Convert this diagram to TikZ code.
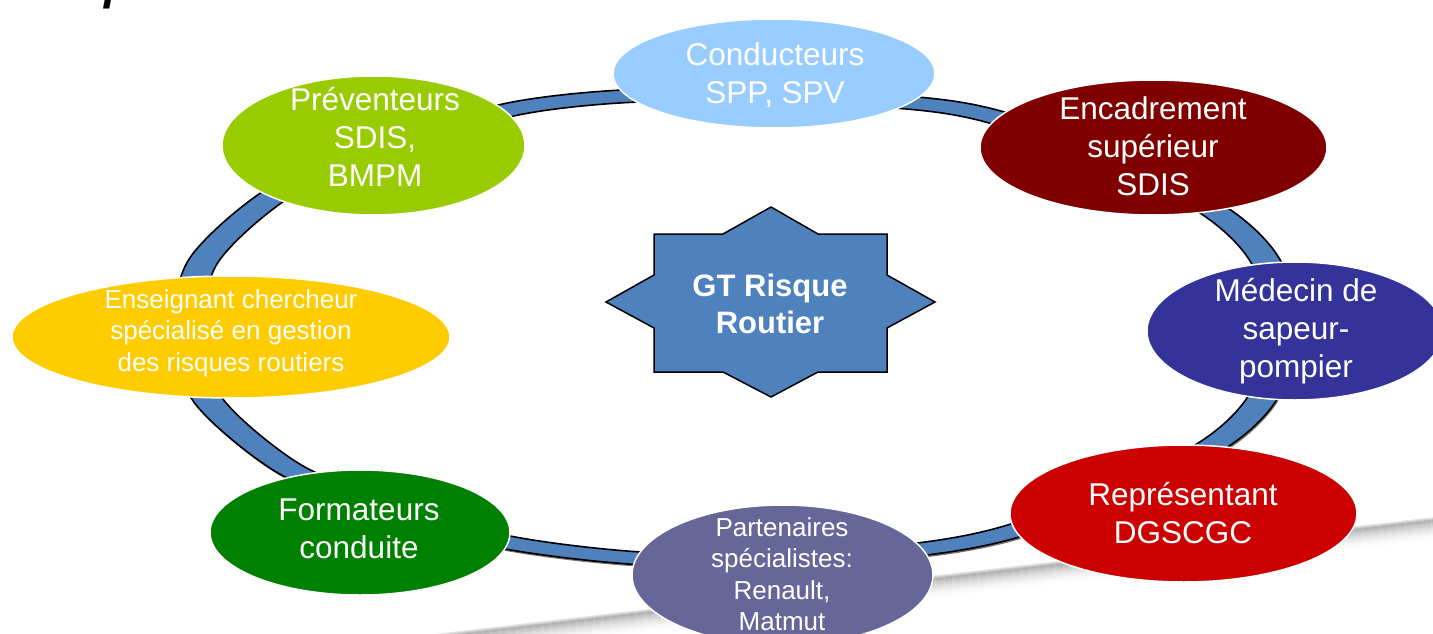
\documentclass[tikz,border=0pt]{standalone}
\usepackage{fontspec}
\setmainfont{Liberation Sans}
\usetikzlibrary{shapes.geometric}
\definecolor{ringblue}{HTML}{4F81BD}
\definecolor{cCond}{HTML}{99CCFF}
\definecolor{cEnc}{HTML}{800000}
\definecolor{cMed}{HTML}{333399}
\definecolor{cRep}{HTML}{CC0000}
\definecolor{cPart}{HTML}{666699}
\definecolor{cForm}{HTML}{008000}
\definecolor{cEns}{HTML}{FFCC00}
\definecolor{cPrev}{HTML}{99CC00}
\tikzset{
  blob/.style={ellipse, draw=white, line width=1.5pt, inner sep=0pt},
  bigtxt/.style={text=white, align=center, inner sep=0pt, font=\fontsize{31.5}{38}\selectfont},
  smalltxt/.style={text=white, align=center, inner sep=0pt, font=\fontsize{26}{31.5}\selectfont},
  ringline/.style={line width=1.6pt, draw=black},
}
\begin{document}
\begin{tikzpicture}[x=1pt,y=-1pt]
\useasboundingbox (0,0) rectangle (1433,634);
\clip (0,0) rectangle (1433,634);
% page shadow
\foreach \i in {0,...,24}{
  \pgfmathsetmacro\sh{ifthenelse(\i<3, 10+7*\i, 31*((24-\i)/21)^2)}
  \draw[line width=1.3pt, black!\sh] (380,{641+\i}) -- (1440,{517+\i});
}
% partial title glyph
\node[anchor=base west, inner sep=0pt, font=\fontsize{46}{50}\selectfont\bfseries\itshape] (title) at (104,0) {p};
% ring
\def\ringpts{(390,145) (513,109) (630,96) (770,97) (912,103) (995,117) (1120,160) (1219,214) (1266,262) (1284,330) (1263,397) (1216,443) (1120,492) (1010,532) (922,549) (780,560) (635,558) (505,542) (390,510) (288,468) (208,400) (188,330) (204,260) (280,192)}
\begin{scope}[scale around={1.027:(735,328)}]
  \fill[black!55, shift={(1,2)}] plot[smooth cycle] coordinates {\ringpts};
  \filldraw[ringline, fill=ringblue] plot[smooth cycle] coordinates {\ringpts};
\end{scope}
\begin{scope}[scale around={0.973:(735,328)}]
  \filldraw[ringline, fill=white] plot[smooth cycle] coordinates {\ringpts};
\end{scope}
% star
\filldraw[fill=ringblue, draw=black, line width=1.5pt, line join=miter]
  (771,207) -- (818,234) -- (887,234) -- (887,275) -- (935,302) -- (887,328) -- (887,372) -- (818,372)
  -- (771,397) -- (723,372) -- (654,372) -- (654,328) -- (606,302) -- (654,275) -- (654,234) -- (723,234) -- cycle;
\node[text=white, align=center, inner sep=0pt, font=\fontsize{31}{37}\selectfont\bfseries] (gt) at (770,304) {GT Risque\\Routier};
% ellipses
\node[blob, fill=cCond, minimum width=322pt, minimum height=109pt] (cond) at (774,73.5) {};
\node[blob, fill=cEnc, minimum width=347pt, minimum height=135pt] (enc) at (1153.5,147.5) {};
\node[blob, fill=cMed, minimum width=296pt, minimum height=138pt] (med) at (1295,331) {};
\node[blob, fill=cRep, minimum width=347pt, minimum height=137pt] (rep) at (1183.5,513.5) {};
\node[blob, fill=cPart, minimum width=301pt, minimum height=140pt] (part) at (782.5,575) {};
\node[blob, fill=cForm, minimum width=300pt, minimum height=125pt] (form) at (360,532.5) {};
\node[blob, fill=cEns, minimum width=438pt, minimum height=122pt] (ens) at (231,337) {};
\node[blob, fill=cPrev, minimum width=303pt, minimum height=139pt] (prev) at (373.5,145.5) {};
% texts
\node[bigtxt] (condt) at (775,75) {Conducteurs\\SPP, SPV};
\node[bigtxt] (enct) at (1153,146) {Encadrement\\supérieur\\SDIS};
\node[bigtxt] (medt) at (1296,331) {Médecin de\\sapeur-\\pompier};
\node[bigtxt] (rept) at (1183,513) {Représentant\\DGSCGC};
\node[smalltxt] (partt) at (782,574) {Partenaires\\spécialistes:\\Renault,\\Matmut};
\node[bigtxt] (formt) at (359,529) {Formateurs\\conduite};
\node[smalltxt] (enst) at (231,333) {Enseignant chercheur\\spécialisé en gestion\\des risques routiers};
\node[bigtxt] (prevt) at (375,137) {Préventeurs\\SDIS,\\BMPM};
\end{tikzpicture}
\end{document}
